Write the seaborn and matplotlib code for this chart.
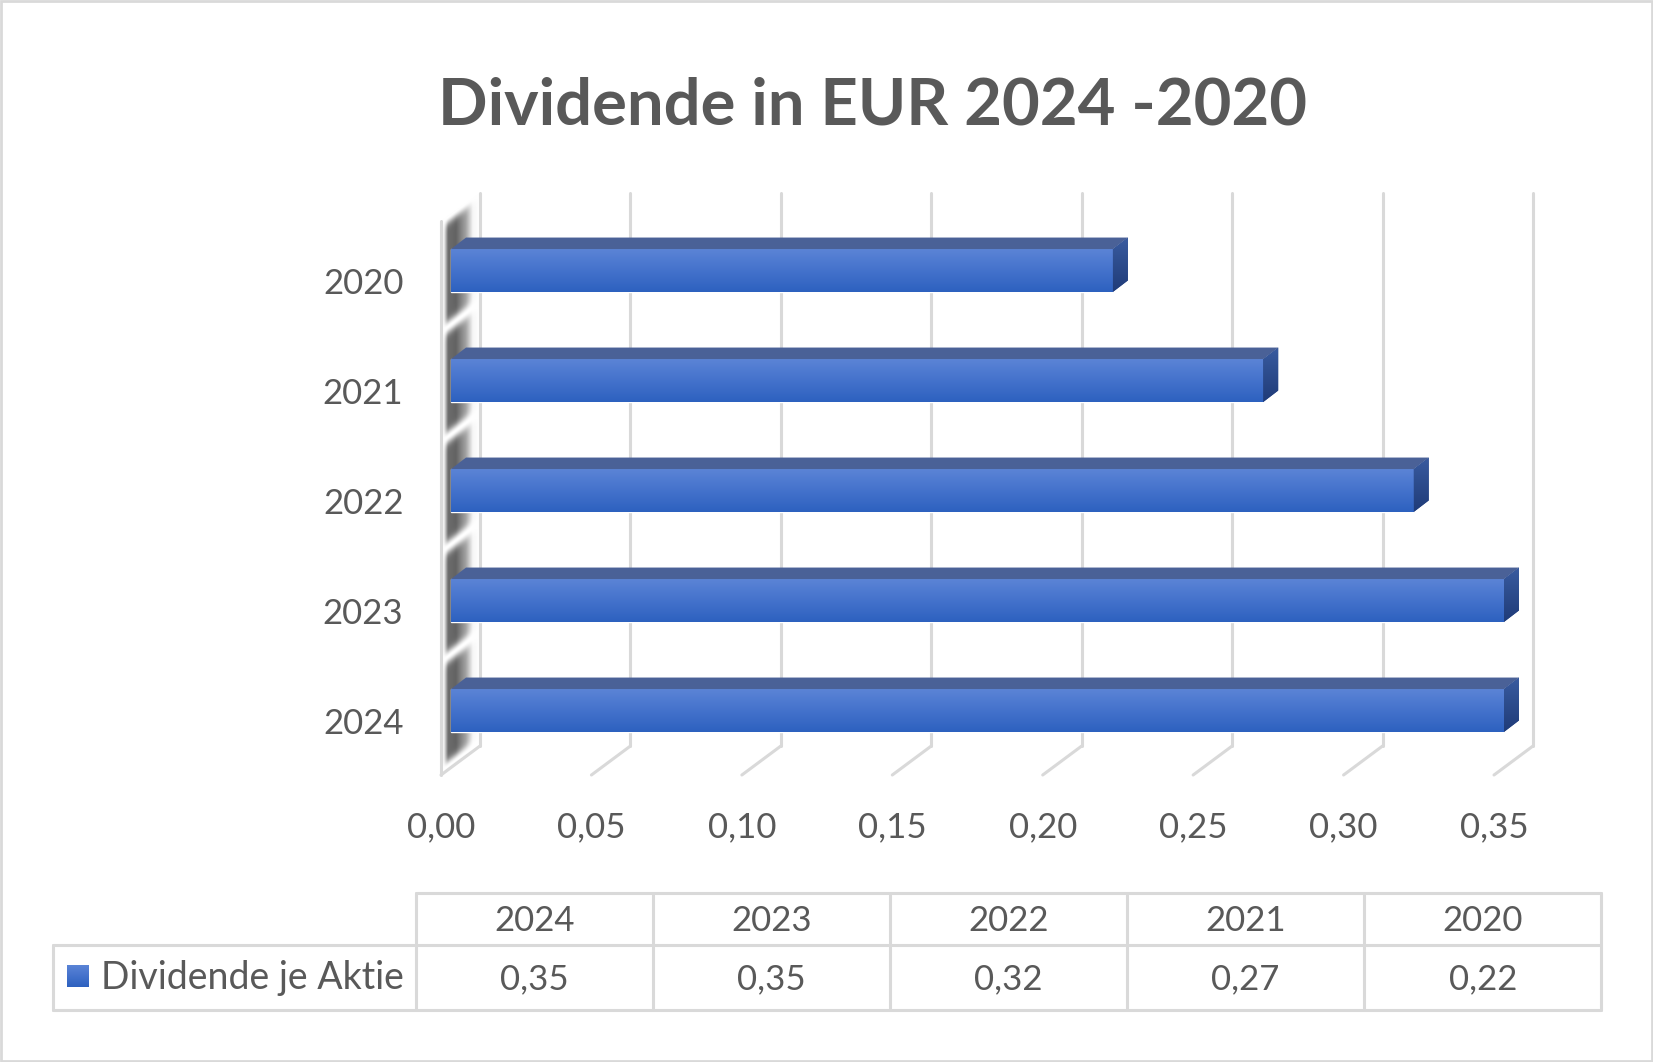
import numpy as np
import pandas as pd
import matplotlib.pyplot as plt
import matplotlib.colors as mcolors
from matplotlib.patches import Polygon, Rectangle
import seaborn as sns

# Daten aus dem Diagramm
jahre = ["2024", "2023", "2022", "2021", "2020"]
dividende = [0.35, 0.35, 0.32, 0.27, 0.22]
x_ticks = [0.00, 0.05, 0.10, 0.15, 0.20, 0.25, 0.30, 0.35]
titel = "Dividende in EUR 2024 -2020"
serie = "Dividende je Aktie"

df = pd.DataFrame({"Jahr": jahre, "Dividende": dividende})
reihenfolge = jahre[::-1]

sns.set_theme(style="white")
plt.rcParams["font.family"] = ["Lato", "DejaVu Sans"]

grau = "#595959"
linie = "#d9d9d9"
blau_verlauf = ["#5b84d6", "#4472cc", "#2d61bf"]

W, H = 1653, 1062
fig = plt.figure(figsize=(W / 100, H / 100), dpi=100)


def fx(x):
    return x / W


def fy(y):
    return 1 - y / H


def verlauf(ax, extent, farben, clip, horizontal=False, zorder=3):
    cmap = mcolors.LinearSegmentedColormap.from_list("v", farben)
    g = np.linspace(0, 1, 256)
    arr = g[None, :] if horizontal else g[:, None]
    im = ax.imshow(arr, cmap=cmap, extent=extent, origin="upper",
                   aspect="auto", zorder=zorder, interpolation="bilinear")
    im.set_clip_path(clip)
    if isinstance(clip, Polygon):
        im.set_clip_box(fig.bbox)
    return im


# vordere Ebene des 3D-Diagramms (Pixel)
links, rechts = 441, 1494
oben, boden = 221, 775
y_kat0 = 281
ax = fig.add_axes([fx(links), fy(boden), (rechts - links) / W, (boden - oben) / H])

sns.barplot(data=df, x="Dividende", y="Jahr", order=reihenfolge, orient="h",
            width=0.39, color="#4472c4", saturation=1, ax=ax, zorder=3)

PX = 0.35 / (rechts - links)   # Daten pro Pixel (x)
PY = 1 / 110                   # Kategorien pro Pixel (y)
y_top = -(y_kat0 - oben) * PY
y_bot = (boden - y_kat0) * PY

# Balken etwas nach hinten schieben und 3D-Flächen ergänzen
for p in list(ax.patches):
    p.set_x(p.get_x() + 10 * PX)
    p.set_y(p.get_y() - 10.5 * PY)
    p.set_clip_on(False)
    x0, y0 = p.get_x(), p.get_y()
    x1, h = x0 + p.get_width(), p.get_height()
    dx, dy = 15 * PX, 11.5 * PY
    verlauf(ax, (x0, x1, y0 + h, y0), blau_verlauf, p)
    deckel = Polygon([(x0, y0), (x1, y0), (x1 + dx, y0 - dy), (x0 + dx, y0 - dy)],
                     closed=True, fc="#4a6197", ec="none", zorder=3, clip_on=False)
    ax.add_patch(deckel)
    seite = Polygon([(x1, y0), (x1 + dx, y0 - dy), (x1 + dx, y0 + h - dy), (x1, y0 + h)],
                    closed=True, fc="#2b4a8c", ec="none", zorder=3, clip_on=False)
    ax.add_patch(seite)
    verlauf(ax, (x1, x1 + dx, y0 + h, y0 - dy), ["#3a5ca0", "#1f3b78"], seite)

# Gitter: Rückwand und Boden
tx, ty = 39 * PX, 29 * PY
for v in x_ticks:
    ax.plot([v, v + tx], [y_bot, y_bot - ty], color=linie, lw=2.2, clip_on=False, zorder=1)
    ax.plot([v + tx, v + tx], [y_bot - ty, y_top - 28 * PY], color=linie, lw=2.2,
            clip_on=False, zorder=1)

# linke Seitenwand mit Schattierung
wand = Polygon([(0, y_bot), (0, y_top), (tx, y_top - 28 * PY), (tx, y_bot - ty)],
               closed=True, fc="none", ec="none", zorder=0.5)
ax.add_patch(wand)
xs = np.linspace(links, links + 39, 80)
ys = np.linspace(oben - 28, boden, 1164)
XX, YY = np.meshgrid(xs, ys)
dunkel = np.interp(XX, [441, 444, 448, 456, 466, 473, 480],
                   [0, 0.1, 0.8, 0.85, 0.5, 0.05, 0])
licht = np.zeros_like(XX)
for k in range(-1, len(jahre)):
    mitte = y_kat0 + 110 * (k + 0.5) - 10.5 - 8 - 0.75 * (XX - 460)
    licht = np.maximum(licht, np.exp(-((YY - mitte) / 7) ** 2))
g = 1 - 0.72 * dunkel * (1 - licht)
im = ax.imshow(np.dstack([g, g, g]), origin="upper", aspect="auto",
               extent=(0, tx, y_bot, y_top - 28 * PY), zorder=0.5,
               interpolation="bilinear")
im.set_clip_path(wand)
im.set_clip_box(fig.bbox)
ax.plot([0, 0], [y_bot, y_top], color=linie, lw=2.2, clip_on=False, zorder=1)

ax.set_xticks(x_ticks)
ax.set_xticklabels([f"{v:.2f}".replace(".", ",") for v in x_ticks])
ax.tick_params(axis="x", length=0, pad=26, labelsize=25, labelcolor=grau)
ax.tick_params(axis="y", length=0, pad=27, labelsize=25, labelcolor=grau)
ax.set_xlabel("")
ax.set_ylabel("")
ax.grid(False)
for s in ax.spines.values():
    s.set_visible(False)
ax.set_xlim(0, 0.35)
ax.set_ylim(y_bot, y_top)

# Titel
fig.text(fx(872), fy(106), titel, ha="center", va="center", fontsize=47,
         fontweight="bold", color=grau)

# Datentabelle
tab = fig.add_axes([0, 0, 1, 1])
tab.set_xlim(0, W)
tab.set_ylim(H, 0)
tab.axis("off")
tab.patch.set_visible(False)

spalten = [52.7, 416.4, 652.6, 889.8, 1127, 1364, 1601.4]
zeilen = [893, 944.5, 1010]
tab.plot([spalten[1], spalten[-1]], [zeilen[0], zeilen[0]], color=linie, lw=2.2)
tab.plot([spalten[0], spalten[-1]], [zeilen[1], zeilen[1]], color=linie, lw=2.2)
tab.plot([spalten[0], spalten[-1]], [zeilen[2], zeilen[2]], color=linie, lw=2.2)
tab.plot([spalten[0], spalten[0]], [zeilen[1], zeilen[2]], color=linie, lw=2.2)
for c in spalten[1:]:
    tab.plot([c, c], [zeilen[0], zeilen[2]], color=linie, lw=2.2)

for i, (j, d) in enumerate(zip(jahre, dividende)):
    xm = (spalten[i + 1] + spalten[i + 2]) / 2
    tab.text(xm, 921, j, ha="center", va="center", fontsize=25, color=grau)
    tab.text(xm, 979, f"{d:.2f}".replace(".", ","), ha="center", va="center",
             fontsize=25, color=grau)

key = Rectangle((67, 965), 22, 22, fc="none", ec="none")
tab.add_patch(key)
verlauf(tab, (67, 89, 987, 965), blau_verlauf, key)
tab.text(101, 978, serie, ha="left", va="center", fontsize=27, color=grau)
tab.set_xlim(0, W)
tab.set_ylim(H, 0)

# Rahmen
tab.add_patch(Rectangle((1, 1), W - 2, H - 2, fill=False, ec=linie, lw=2))

fig.savefig("out.png", dpi=100)
